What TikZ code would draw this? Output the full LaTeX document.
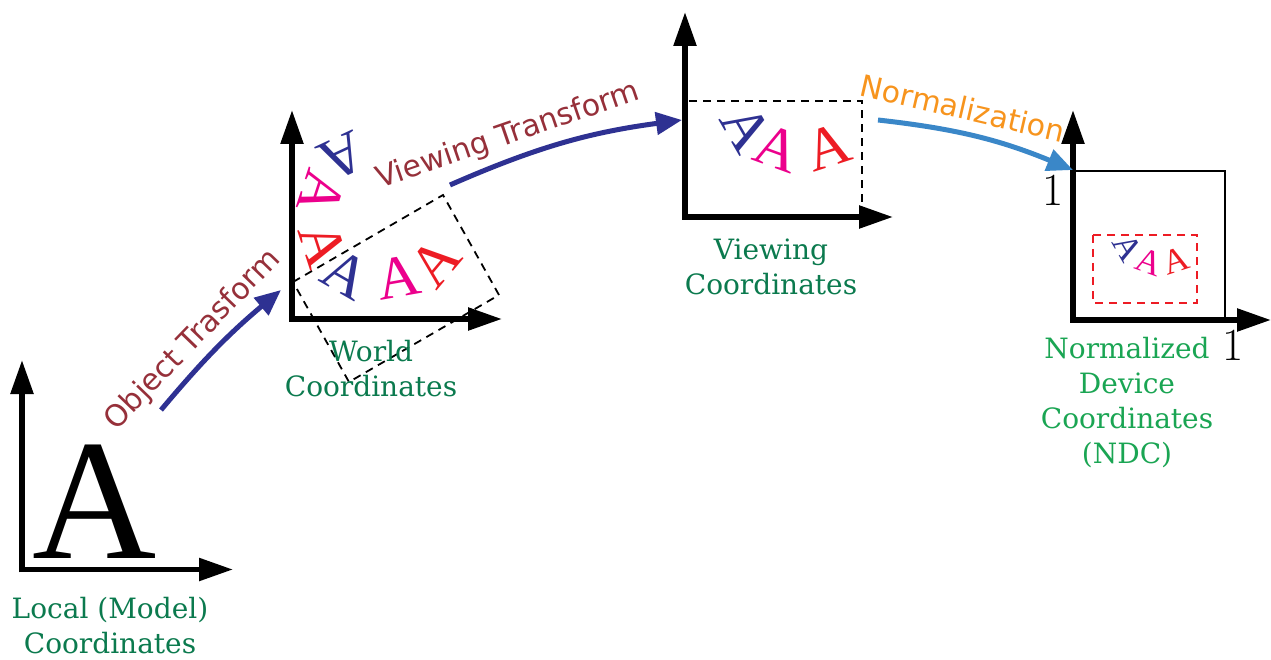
\documentclass[tikz,border=0pt]{standalone}
\usepackage{fontspec}
\newfontfamily\labfont{DejaVu Serif}
\newfontfamily\trfont{DejaVu Sans}
\newfontfamily\afont{Liberation Serif}
\usetikzlibrary{arrows.meta}
\definecolor{dkgreen}{HTML}{0B7A4E}
\definecolor{ndcgreen}{HTML}{1AA553}
\definecolor{trred}{HTML}{96303A}
\definecolor{norange}{HTML}{F7941D}
\definecolor{arrblue}{HTML}{2E3192}
\definecolor{nblue}{HTML}{3A87C8}
\definecolor{ablue}{HTML}{2E3192}
\definecolor{apink}{HTML}{EC008C}
\definecolor{ared}{HTML}{ED1C24}
\begin{document}
\begin{tikzpicture}[x=1pt,y=-1pt,
  axis/.style={line width=5.5pt,-{Triangle[length=34pt,width=22pt]}},
  win/.style={line width=1.8pt,dash pattern=on 8pt off 6pt},
  lab/.style={font=\labfont\fontsize{28}{35}\selectfont,text=dkgreen,align=center,inner sep=0pt},
  trlab/.style={font=\trfont\fontsize{30}{36}\selectfont,inner sep=0pt},
  letter/.style={font=\afont\fontsize{60}{62}\selectfont,inner sep=0pt},
  smallletter/.style={font=\afont\fontsize{35}{37}\selectfont,inner sep=0pt},
  onelab/.style={font=\fontsize{46}{48}\selectfont,inner sep=0pt},
  xarrow/.style={line width=5pt,-{Triangle[length=26pt,width=22pt]}}]
\fill[white] (0,0) rectangle (1271,660);
\useasboundingbox (0,0) rectangle (1271,660);

% ---- panel 1: local
\node[font=\afont\fontsize{172}{172}\selectfont,inner sep=0pt] (bigA) at (95,502) {A};
\draw[axis] (22,572.25) -- (22,360);
\draw[axis] (19.25,569.5) -- (233,569.5);
\node[lab] (loclab) at (110,626) {Local (Model)\\Coordinates};

% ---- panel 2: world
\draw[win] (293,282) -- (443,195) -- (499,295) -- (349,382) -- cycle;
\node[letter,text=ablue,rotate=-30] (wb1) at (346,274) {A};
\node[letter,text=apink,rotate=10] (wp1) at (398,277) {A};
\node[letter,text=ared,rotate=50] (wr1) at (435,262) {A};
\node[letter,text=ablue,rotate=-155] (wb2) at (342,157) {A};
\node[letter,text=apink,rotate=-108] (wp2) at (322,193) {A};
\node[letter,text=ared,rotate=-72] (wr2) at (323,245) {A};
\draw[axis] (292,321.75) -- (292,110);
\draw[axis] (289.25,319) -- (502,319);
\node[lab] (worldlab) at (371,369) {World\\Coordinates};

% ---- panel 3: viewing
\draw[win] (685,101) rectangle (862,217);
\node[letter,text=ablue,rotate=-60] (vb) at (746,128) {A};
\node[letter,text=apink,rotate=-20] (vp) at (778,148) {A};
\node[letter,text=ared,rotate=18] (vr) at (828,147) {A};
\draw[axis] (685,219.75) -- (685,12);
\draw[axis] (682.25,217) -- (893,217);
\node[lab] (viewlab) at (771,267) {Viewing\\Coordinates};

% ---- panel 4: NDC
\draw[line width=2pt] (1073,171) rectangle (1225,320);
\draw[win,ared,line width=2pt] (1093,235) rectangle (1197,303);
\node[smallletter,text=ablue,rotate=-60] (nb) at (1128,248) {A};
\node[smallletter,text=apink,rotate=-20] (np) at (1149,262) {A};
\node[smallletter,text=ared,rotate=18] (nr) at (1176,261) {A};
\draw[axis] (1073,322.75) -- (1073,110);
\draw[axis] (1070.25,320) -- (1271,320);
\node[onelab] (oneY) at (1053,190) {1};
\node[onelab] (oneX) at (1233,345) {1};
\node[lab,text=ndcgreen] (ndclab) at (1127,403) {Normalized\\Device\\Coordinates\\(NDC)};

% ---- transforms
\coordinate (a1s) at (161,410);
\coordinate (a1e) at (281,290);
\draw[xarrow,arrblue] (a1s) to[bend left=5] (a1e);
\node[trlab,text=trred,rotate=46] (otlab) at (193,340) {Object Trasform};

\coordinate (a2s) at (450,185);
\coordinate (a2e) at (682,120);
\draw[xarrow,arrblue] (a2s) to[bend left=8] (a2e);
\node[trlab,text=trred,rotate=19] (vtlab) at (508,136) {Viewing Transform};

\coordinate (a3s) at (878,120);
\coordinate (a3e) at (1073,170);
\draw[xarrow,nblue] (a3s) to[bend left=8] (a3e);
\node[trlab,text=norange,rotate=-13] (nlab) at (963,108) {Normalization};
\end{tikzpicture}
\end{document}
